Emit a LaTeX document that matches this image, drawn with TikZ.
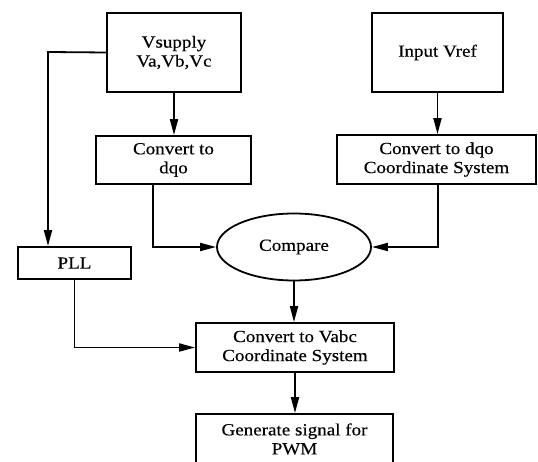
\documentclass[tikz,border=0pt]{standalone}
\usepackage{fontspec}
\setmainfont{Liberation Serif}[FakeStretch=1.12,FakeBold=0.4]
\usetikzlibrary{arrows.meta,shapes.geometric}
\begin{document}
\begin{tikzpicture}[x=1pt,y=-1pt,
  box/.style={draw,line width=1.8pt,inner sep=0pt,align=center,font=\fontsize{17}{19}\selectfont},
  conn/.style={line width=1.8pt,-{Triangle[length=16pt,width=8pt]}}]
\useasboundingbox (0,0) rectangle (538,462);
\clip (0,0) rectangle (538,462);
\node[box,minimum width=134pt,minimum height=79pt] (vs) at (174,52.5) {Vsupply\\Va,Vb,Vc};
\node[box,minimum width=155pt,minimum height=48pt] (dqa) at (173.5,160) {Convert to\\dqo};
\node[box,minimum width=131pt,minimum height=79pt] (vref) at (437.5,52.5) {Input Vref};
\node[box,minimum width=199pt,minimum height=49pt] (dqb) at (436.5,159.5) {Convert to dqo\\Coordinate System};
\node[box,ellipse,minimum width=154pt,minimum height=67pt] (cmp) at (294,247) {Compare};
\node[box,minimum width=113pt,minimum height=32pt] (pll) at (74.5,263) {PLL};
\node[box,minimum width=198pt,minimum height=49pt] (vabc) at (295,347.5) {Convert to Vabc\\Coordinate System};
\node[box,minimum width=197pt,minimum height=50pt] (gen) at (294.5,439) {Generate signal for\\PWM};
\coordinate (c1) at (48,52);
\coordinate (c2) at (153,247);
\coordinate (c3) at (438,247);
\coordinate (c4) at (74.5,347.5);
\draw[conn] (vs.west) -- (c1) -- (c1 |- pll.north);
\draw[conn] (vs.south) -- (vs.south |- dqa.north);
\draw[conn] (c2 |- dqa.south) -- (c2) -- (cmp.west);
\draw[conn] (vref.south) -- (vref.south |- dqb.north);
\draw[conn] (c3 |- dqb.south) -- (c3) -- (cmp.east);
\draw[conn] (pll.south) -- (c4) -- (vabc.west);
\draw[conn] (cmp.south) -- (cmp.south |- vabc.north);
\draw[conn] (vabc.south) -- (vabc.south |- gen.north);
\end{tikzpicture}
\end{document}
